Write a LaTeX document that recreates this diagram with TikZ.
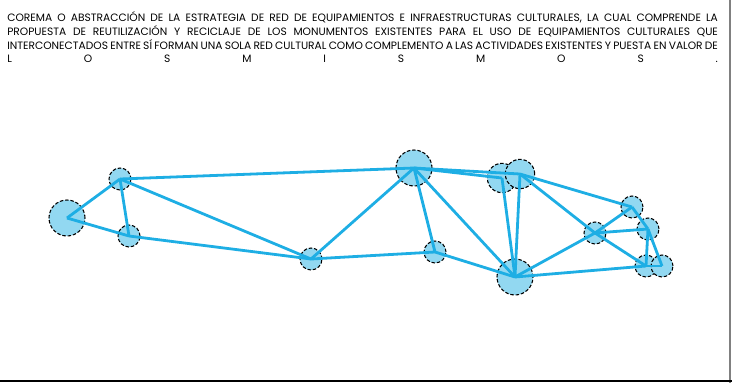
\documentclass[tikz,border=0pt]{standalone}
\usepackage{fontspec}
\setmainfont{Poppins}
\definecolor{celeste}{RGB}{146,216,241}
\definecolor{azul}{RGB}{30,174,228}

\begin{document}
\begin{tikzpicture}[x = 0.75pt, y = -0.75pt,
    every node/.style = { inner sep = 0pt },
    texto/.style = { anchor = base west, font = \fontsize{8}{10}\selectfont },
    sitio/.style = { draw, shape = circle, dash pattern = on 2.6pt off 1.4pt, line width = 0.8pt, fill = celeste, minimum size = 16.5pt },
    medio/.style = { sitio, minimum size = 22pt },
    grande/.style = { sitio, minimum size = 27pt },
    enlace/.style = { draw = azul, line width = 2.1pt }]
  \useasboundingbox (0,0) rectangle (732,383);

  \node [texto] (t1) at (7,21) { \makebox[533pt][s]{COREMA O ABSTRACCIÓN DE LA ESTRATEGIA DE RED DE EQUIPAMIENTOS E INFRAESTRUCTURAS CULTURALES, LA CUAL COMPRENDE LA} };
  \node [texto] (t2) at (7,35) { \makebox[533pt][s]{PROPUESTA DE REUTILIZACIÓN Y RECICLAJE DE LOS MONUMENTOS EXISTENTES PARA EL USO DE EQUIPAMIENTOS CULTURALES QUE} };
  \node [texto] (t3) at (7,49) { \makebox[533pt][s]{INTERCONECTADOS ENTRE SÍ FORMAN UNA SOLA RED CULTURAL COMO COMPLEMENTO A LAS ACTIVIDADES EXISTENTES Y PUESTA EN VALOR DE} };
  \node [texto] (t4) at (7,62) { \makebox[533pt][s]{L\hfill O\hfill S\hfill M\hfill I\hfill S\hfill M\hfill O\hfill S\hfill .} };

  % sitios
  \node [grande] (a) at (67,218) {};
  \node [sitio]  (b) at (120,179) {};
  \node [sitio]  (c) at (129,236) {};
  \node [sitio]  (d) at (311,259) {};
  \node [grande] (e) at (414,168) {};
  \node [sitio]  (f) at (435,252) {};
  \node [medio]  (g) at (502,178) {};
  \node [medio]  (h) at (520,174) {};
  \node [grande] (i) at (515,277) {};
  \node [sitio]  (j) at (595,233) {};
  \node [sitio]  (k) at (632,207) {};
  \node [sitio]  (l) at (648,229) {};
  \node [sitio]  (m) at (646,266) {};
  \node [sitio]  (n) at (662,266) {};

  % red cultural
  \foreach \p/\q in {a/b, a/c, b/c, b/e, b/d, c/d, d/e, d/f, e/f, e/i, e/g, e/h, f/i, g/i, h/i,
                     h/k, h/j, i/j, i/m, j/k, j/l, j/m, k/l, l/m, l/n, m/n}
    \draw [enlace] (\p.center) -- (\q.center);

  % marco
  \draw [gray, line width = 0.9pt] (730,0) -- (730,383);
  \draw [black, line width = 1.8pt] (0,381) -- (732,381);
\end{tikzpicture}
\end{document}
